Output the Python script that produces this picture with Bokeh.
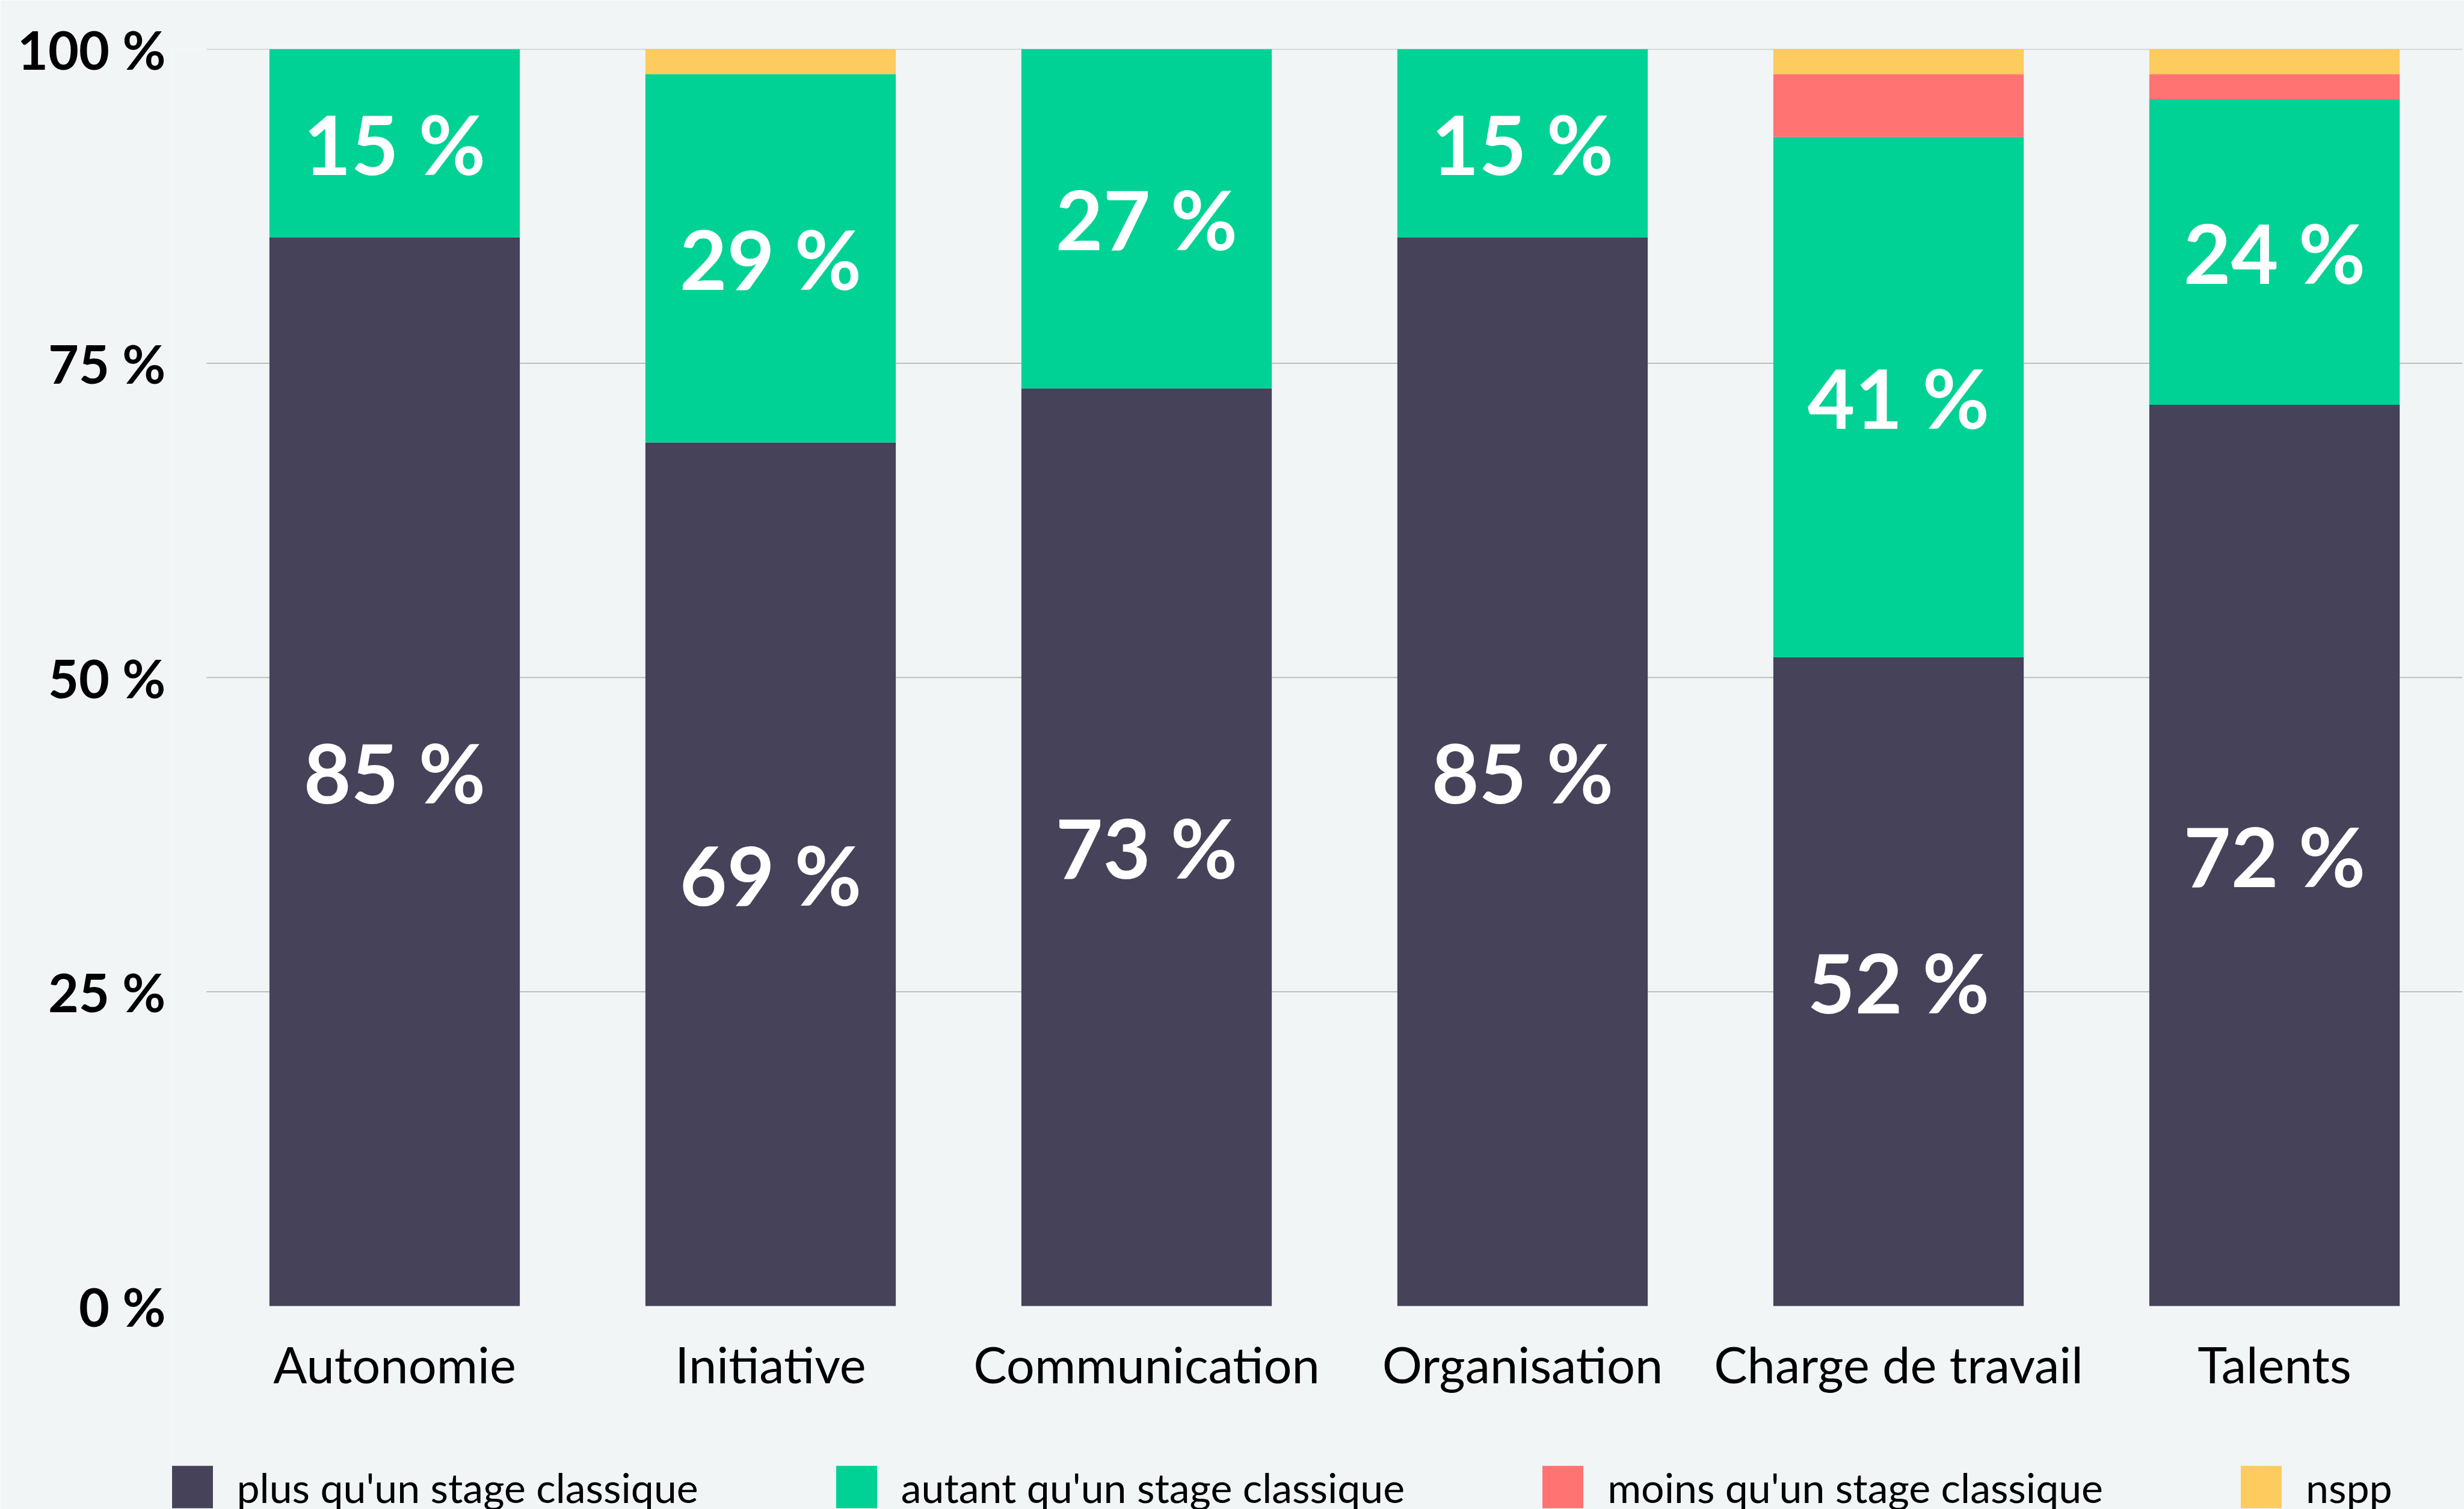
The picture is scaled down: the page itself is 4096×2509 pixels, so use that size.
from bokeh.plotting import figure
from bokeh.models import (ColumnDataSource, Range1d, FixedTicker,
                          LabelSet, Legend, LegendItem)
from bokeh.core.properties import value
from bokeh.embed import file_html
from bokeh.resources import INLINE

categories = ["Autonomie", "Initiative", "Communication", "Organisation",
              "Charge de travail", "Talents"]
plus = [85, 68.7, 73, 85, 51.6, 71.7]
autant = [15, 29.3, 27, 15, 41.4, 24.3]
moins = [0, 0, 0, 0, 5, 2]
nspp = [0, 2, 0, 0, 2, 2]
series_keys = ["plus", "autant", "moins", "nspp"]
series_names = ["plus qu'un stage classique", "autant qu'un stage classique",
                "moins qu'un stage classique", "nspp"]
colors = ["#464259", "#00d296", "#ff7373", "#fdcb5e"]
y_ticks = [0, 25, 50, 75, 100]
y_tick_labels = ["0 %", "25 %", "50 %", "75 %", "100 %"]

BG = "#f1f5f6"
FONT = "Lato"

xi = list(range(len(categories)))
src = ColumnDataSource(dict(xi=xi, cat=categories, plus=plus, autant=autant,
                            moins=moins, nspp=nspp))

# frame runs down to the bottom of the page so that the legend fits inside it
p = figure(x_range=Range1d(-0.5928, len(categories) - 0.5),
           y_range=Range1d(-16.17, 100),
           width=4096, height=2509, output_backend="svg", toolbar_location=None,
           x_axis_location=None,
           min_border_left=285, min_border_right=3, min_border_top=81,
           min_border_bottom=0, background_fill_color=BG,
           border_fill_color=BG, outline_line_color=None)

p.xgrid.grid_line_color = None
p.ygrid.grid_line_color = None

# horizontal grid lines across the category span
grid_y = y_ticks[1:]
p.segment(x0=[-0.5] * len(grid_y), x1=[len(categories) - 0.5] * len(grid_y),
          y0=grid_y, y1=grid_y, line_color="#bdbdbd", line_width=2,
          level="underlay")

renderers = p.vbar_stack(series_keys, x="xi", width=0.666, source=src,
                         fill_color=colors, line_color=None)

# value labels (only the two main series)
lab_x, lab_y, lab_t = [], [], []
for i, a, b in zip(xi, plus, autant):
    lab_x += [i, i]
    lab_y += [a / 2, a + b / 2]
    lab_t += [f"{round(a)} %", f"{round(b)} %"]
lab_src = ColumnDataSource(dict(x=lab_x, y=lab_y, t=lab_t))
p.add_layout(LabelSet(x="x", y="y", text="t", source=lab_src,
                      text_color="white", text_font=value(FONT),
                      text_font_style="bold", text_font_size="136px",
                      text_align="center", text_baseline="middle"))

# category labels under the bars
cat_src = ColumnDataSource(dict(x=xi, y=[-4.6] * len(xi), t=categories))
p.add_layout(LabelSet(x="x", y="y", text="t", source=cat_src,
                      text_color="black", text_font=value(FONT),
                      text_font_size="83px", text_align="center",
                      text_baseline="middle"))

# y axis
p.yaxis.ticker = FixedTicker(ticks=y_ticks)
p.yaxis.major_label_overrides = dict(zip(y_ticks, y_tick_labels))
p.yaxis.major_label_text_font = FONT
p.yaxis.major_label_text_font_style = "bold"
p.yaxis.major_label_text_font_size = "88px"
p.yaxis.major_label_text_color = "black"
p.yaxis.major_label_standoff = 10
p.yaxis.axis_line_color = None
p.yaxis.major_tick_line_color = None
p.yaxis.minor_tick_line_color = None
p.yaxis.major_tick_out = 0
p.yaxis.major_tick_in = 0

items = [LegendItem(label=n, renderers=[r]) for n, r in zip(series_names, renderers)]
legend = Legend(items=items, orientation="horizontal", location=(-8.5, -7),
                spacing=220, label_standoff=32, glyph_width=85, glyph_height=88,
                padding=0, margin=0, border_line_color=None,
                background_fill_alpha=0, label_text_font=FONT,
                label_text_font_size="68px", label_text_color="black")
p.add_layout(legend, "center")

open("out.html", "w").write(file_html(p, INLINE))
